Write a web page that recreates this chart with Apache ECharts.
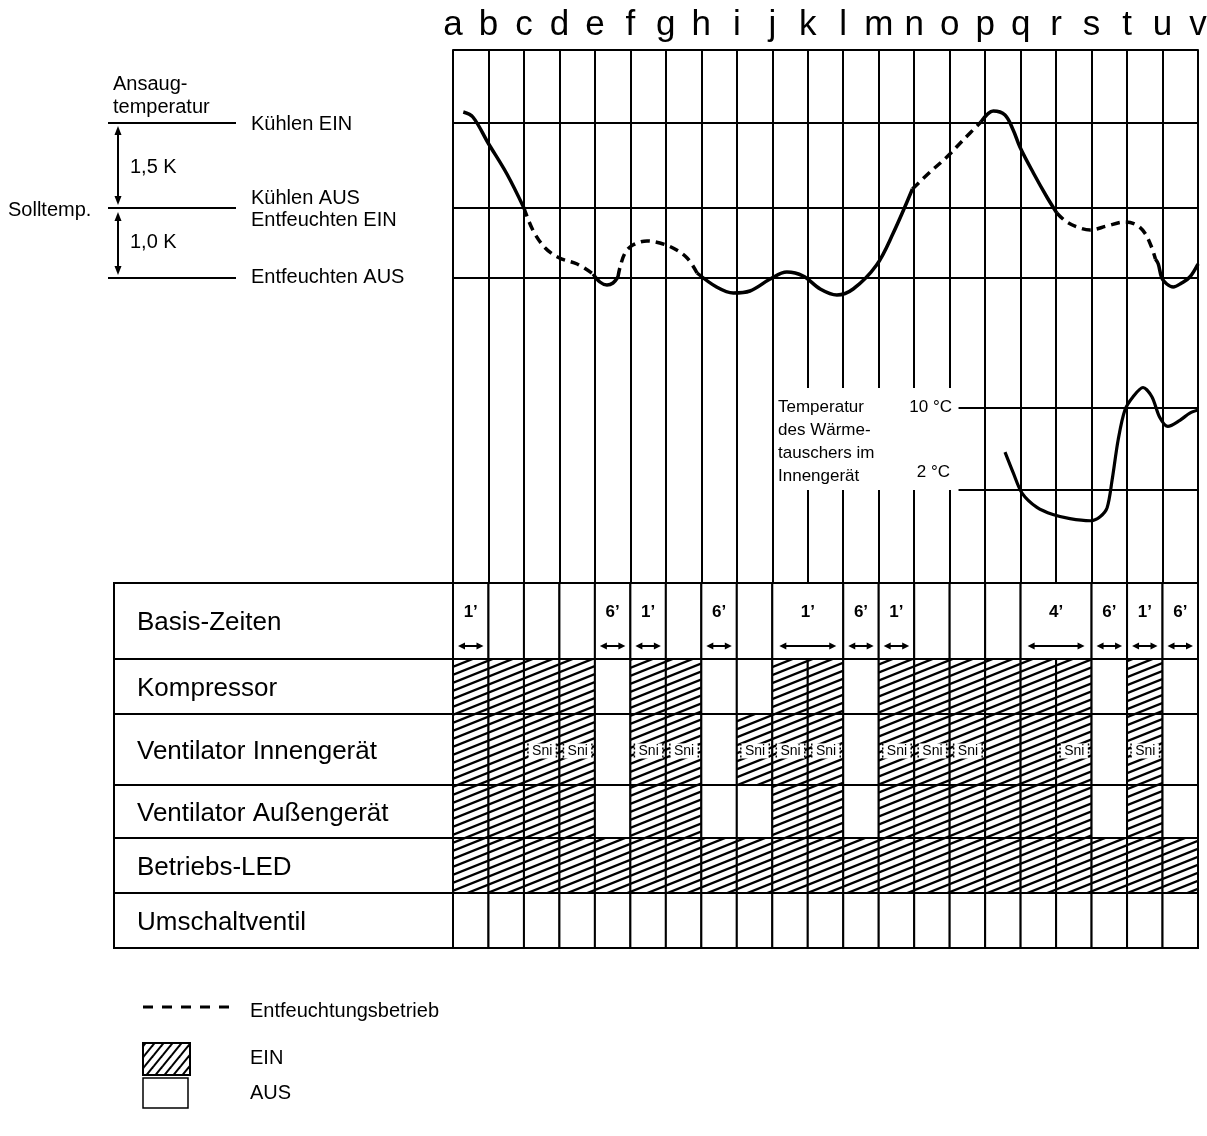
<!DOCTYPE html>
<html><head><meta charset="utf-8">
<script src="https://cdn.jsdelivr.net/npm/echarts@6/dist/echarts.min.js"></script>
<style>html,body{margin:0;padding:0;background:#fff}#c{width:1207px;height:1136px}</style>
</head><body><div id="c"></div>
<script>
// ---------- data ----------
const timeLetters = ['a','b','c','d','e','f','g','h','i','j','k','l','m','n','o','p','q','r','s','t','u','v'];

// Ansaugtemperatur: [time position (a=0 … v=21), level (0 = Solltemp., 8.5 = Kühlen EIN, -7 = Entfeuchten AUS)]
const thresholdLevels = [8.5, 0, -7];
const ansaugSolid1  = [[0.29,9.6],[0.56,9.1],[0.99,6.5],[1.52,3.4],[2.0,0.0]];
const ansaugDashed1 = [[2.0,0.0],[2.25,-2.2],[2.6,-4.0],[3.0,-5.0],[3.5,-5.6],[3.95,-6.6]];
const ansaugSolid2  = [[3.95,-6.6],[4.14,-7.4],[4.34,-7.7],[4.51,-7.5],[4.65,-6.9]];
const ansaugDashed2 = [[4.65,-6.9],[4.71,-5.9],[4.85,-4.5],[5.07,-3.7],[5.47,-3.3],[5.83,-3.5],[6.2,-4.0],[6.6,-5.0],[6.88,-6.5]];
const ansaugSolid3  = [[6.88,-6.5],[7.43,-7.9],[7.9,-8.5],[8.37,-8.3],[8.94,-7.1],[9.41,-6.4],[9.87,-6.8],[10.35,-8.1],[10.82,-8.7],[11.28,-8.1],[11.94,-5.7],[12.41,-2.5],[12.95,1.9]];
const ansaugDashed3 = [[12.95,1.9],[13.45,3.6],[13.92,5.1],[14.38,6.8],[14.88,8.6]];
const ansaugSolid4  = [[14.88,8.6],[15.23,9.7],[15.56,9.3],[15.79,7.8],[15.98,6.1],[16.36,3.5],[16.74,1.1],[17.02,-0.5]];
const ansaugDashed4 = [[17.02,-0.5],[17.3,-1.4],[17.67,-2.0],[17.96,-2.2],[18.43,-1.8],[18.94,-1.4],[19.27,-1.7],[19.5,-2.5],[19.69,-3.9],[19.8,-5.1]];
const ansaugSolid5  = [[19.8,-5.1],[19.88,-5.6],[19.98,-7.0],[20.12,-7.6],[20.3,-7.9],[20.54,-7.5],[20.77,-6.9],[21.0,-5.6]];

// Temperatur des Wärmetauschers im Innengerät, °C
const heatThresholds = [10, 2];
const heatLineStart = 14.25;
const heatExchanger = [[15.56,5.7],[15.79,3.7],[16.04,1.7],[16.46,0.3],[16.91,-0.4],[17.39,-0.8],[17.96,-1.0],[18.24,-0.6],[18.44,0.3],[18.58,3.0],[18.75,6.9],[18.94,9.8],[19.17,11.1],[19.45,12.0],[19.70,11.1],[19.92,9.1],[20.15,8.2],[20.49,8.8],[20.77,9.5],[21.0,9.8]];

// table
const rowNames = ['Basis-Zeiten','Kompressor','Ventilator Innengerät','Ventilator Außengerät','Betriebs-LED','Umschaltventil'];
const basisTimes = [
  {label:'1’', from:0, to:1},{label:'6’', from:4, to:5},{label:'1’', from:5, to:6},
  {label:'6’', from:7, to:8},{label:'1’', from:9, to:11},{label:'6’', from:11, to:12},
  {label:'1’', from:12, to:13},{label:'4’', from:16, to:18},{label:'6’', from:18, to:19},
  {label:'1’', from:19, to:20},{label:'6’', from:20, to:21}
];
const kompressor     = [1,1,1,1,0,1,1,0,0,1,1,0,1,1,1,1,1,1,0,1,0];
const ventInnen      = [1,1,1,1,0,1,1,0,1,1,1,0,1,1,1,1,1,1,0,1,0];
const ventInnenSni   = [0,0,1,1,0,1,1,0,1,1,1,0,1,1,1,0,0,1,0,1,0];
const ventAussen     = [1,1,1,1,0,1,1,0,0,1,1,0,1,1,1,1,1,1,0,1,0];
const betriebsLed    = [1,1,1,1,1,1,1,1,1,1,1,1,1,1,1,1,1,1,1,1,1];
const umschaltventil = [0,0,0,0,0,0,0,0,0,0,0,0,0,0,0,0,0,0,0,0,0];

// ---------- layout / style ----------
const FONT = "'Liberation Sans', Arial, Helvetica, sans-serif";
const rowEdges = [0, 76, 131, 202, 255, 310, 365];   // table row boundaries (px from table top)

function makeHatch(w, h, lw){
  const cv = document.createElement('canvas'); cv.width = w; cv.height = h;
  const ctx = cv.getContext('2d');
  ctx.fillStyle = '#fff'; ctx.fillRect(0,0,w,h);
  ctx.strokeStyle = '#000'; ctx.lineWidth = lw;
  for (let k=-2;k<=3;k++){ ctx.beginPath(); ctx.moveTo(-w, 2*h + k*h); ctx.lineTo(2*w, -h + k*h); ctx.stroke(); }
  return {image: cv, repeat: 'repeat'};
}
const hatchTable = makeHatch(20, 8, 2.3);
const hatchLegend = makeHatch(9, 11, 2);

const stateRows = [null, kompressor, ventInnen, ventAussen, betriebsLed, umschaltventil];
const cells = [];
for (let i=0;i<21;){
  const b = basisTimes.find(t=>t.from===i);
  const span = b ? b.to-b.from : 1;
  cells.push({row:0, col:i, span, on:0, sni:0, label: b ? b.label : null});
  i += span;
}
for (let r=1;r<6;r++) for (let i=0;i<21;i++)
  cells.push({row:r, col:i, span:1, on:stateRows[r][i], sni: r===2 ? ventInnenSni[i] : 0, label:null});

function txt(text, x, y, size, align, weight, extra){
  return Object.assign({type:'text', style:{text, x, y, fill:'#000', font:(weight||'normal')+' '+size+'px '+FONT,
    align: align||'left', textAlign: align||'left', verticalAlign:'middle', textVerticalAlign:'middle'}}, extra||{});
}

function renderTable(params, api){
  const c = cells[params.dataIndex];
  const a = api.coord([c.col, rowEdges[c.row]]);
  const b = api.coord([c.col + c.span, rowEdges[c.row+1]]);
  const x0=a[0], y0=a[1], x1=b[0], y1=b[1];
  const children = [{type:'rect', shape:{x:x0,y:y0,width:x1-x0,height:y1-y0},
    style:{fill: c.on ? hatchTable : '#fff', stroke:'#000', lineWidth:2}}];
  if (c.sni){
    const cy = y0 + 37;
    children.push({type:'rect', shape:{x:x0+4, y:cy-7.5, width:(x1-x0)-7, height:15}, style:{fill:'#fff', stroke:null}});
    children.push({type:'line', shape:{x1:x0+4,y1:cy-7.5,x2:x0+4,y2:cy+7.5}, style:{stroke:'#000', lineWidth:1.5, lineDash:[2,2]}});
    children.push({type:'line', shape:{x1:x1-3,y1:cy-7.5,x2:x1-3,y2:cy+7.5}, style:{stroke:'#000', lineWidth:1.5, lineDash:[2,2]}});
    children.push(txt('Sni', (x0+x1)/2+0.5, cy, 14, 'center'));
  }
  if (c.label){
    const cx = (x0+x1)/2;
    children.push(txt(c.label, cx, y0+29, 17, 'center', 'bold'));
    const inset = c.span > 1 ? 7 : 5;
    const xl = x0+inset, xr = x1-inset, ya = y0+63;
    children.push({type:'line', shape:{x1:xl+3,y1:ya,x2:xr-3,y2:ya}, style:{stroke:'#000', lineWidth:2}});
    children.push({type:'polygon', shape:{points:[[xl,ya],[xl+7,ya-3.5],[xl+7,ya+3.5]]}, style:{fill:'#000'}});
    children.push({type:'polygon', shape:{points:[[xr,ya],[xr-7,ya-3.5],[xr-7,ya+3.5]]}, style:{fill:'#000'}});
  }
  return {type:'group', children};
}

const lineSeries = (data, dashed) => ({
  type:'line', xAxisIndex:0, yAxisIndex:0, data, smooth:0.35, showSymbol:false, symbol:'none', silent:true, z:5,
  lineStyle:{color:'#000', width:3.5, type: dashed ? [9,6] : 'solid', cap:'butt'}
});

const chart = echarts.init(document.getElementById('c'), null, {renderer:'canvas'});
const first = lineSeries(ansaugSolid1, false);
first.markLine = {silent:true, symbol:['none','none'], label:{show:false}, animation:false,
  lineStyle:{color:'#000', width:2, type:'solid'}, emphasis:{disabled:true},
  data: thresholdLevels.map(v=>({yAxis:v}))};

const option = {
  animation:false,
  backgroundColor:'#fff',
  grid:[
    {left:453, top:50, width:745, height:533, outerBoundsMode:'none', containLabel:false},
    {left:453, top:367, width:745, height:184.5, outerBoundsMode:'none', containLabel:false},
    {left:453, top:583, width:745, height:365, outerBoundsMode:'none', containLabel:false}
  ],
  xAxis:[
    {gridIndex:0, type:'value', min:0, max:21, interval:1, position:'top',
     axisLine:{show:true, onZero:false, lineStyle:{color:'#000', width:2}}, axisTick:{show:false},
     axisLabel:{show:true, formatter:v=>timeLetters[Math.round(v)], fontSize:35, color:'#000', fontFamily:FONT, margin:7, showMinLabel:true, showMaxLabel:true},
     splitLine:{show:true, lineStyle:{color:'#000', width:2}}},
    {gridIndex:1, type:'value', min:0, max:21, show:false},
    {gridIndex:2, type:'value', min:0, max:21, show:false}
  ],
  yAxis:[
    {gridIndex:0, type:'value', min:-37.5, max:15.8, show:false},
    {gridIndex:1, type:'value', min:-4, max:14, show:false},
    {gridIndex:2, type:'value', min:0, max:365, inverse:true, show:false}
  ],
  series:[
    first,
    lineSeries(ansaugDashed1, true),
    lineSeries(ansaugSolid2, false),
    lineSeries(ansaugDashed2, true),
    lineSeries(ansaugSolid3, false),
    lineSeries(ansaugDashed3, true),
    lineSeries(ansaugSolid4, false),
    lineSeries(ansaugDashed4, true),
    lineSeries(ansaugSolid5, false),
    {type:'line', xAxisIndex:1, yAxisIndex:1, data:heatExchanger, smooth:0.3, showSymbol:false, symbol:'none', silent:true, z:5,
     lineStyle:{color:'#000', width:3.2},
     markLine:{silent:true, symbol:['none','none'], label:{show:false}, animation:false,
       lineStyle:{color:'#000', width:2, type:'solid'}, emphasis:{disabled:true},
       data: heatThresholds.map(t=>[{coord:[heatLineStart,t]},{coord:[21,t]}])}},
    {type:'custom', xAxisIndex:2, yAxisIndex:2, silent:true, z:3,
     data: cells.map(c=>[c.col, rowEdges[c.row]]), renderItem: renderTable}
  ]
};
chart.setOption(option);

// ---------- annotations positioned through the axes ----------
const yL = v => chart.convertToPixel({yAxisIndex:0}, v);
const yH = v => chart.convertToPixel({yAxisIndex:1}, v);
const yT = v => chart.convertToPixel({yAxisIndex:2}, v);
const xL = chart.convertToPixel({xAxisIndex:0}, 0);
const g = [];
thresholdLevels.forEach(v=>{
  const y = yL(v);
  g.push({type:'line', shape:{x1:108,y1:y,x2:236,y2:y}, style:{stroke:'#000', lineWidth:2}});
});
const yE = yL(thresholdLevels[0]), yS = yL(thresholdLevels[1]), yA = yL(thresholdLevels[2]);
function vArrow(x, ya, yb){
  g.push({type:'line', shape:{x1:x,y1:ya+6,x2:x,y2:yb-6}, style:{stroke:'#000', lineWidth:2}});
  g.push({type:'polygon', shape:{points:[[x,ya+1],[x-3.5,ya+10],[x+3.5,ya+10]]}, style:{fill:'#000'}});
  g.push({type:'polygon', shape:{points:[[x,yb-1],[x-3.5,yb-10],[x+3.5,yb-10]]}, style:{fill:'#000'}});
}
vArrow(118, yE+2, yS-2);
vArrow(118, yS+3, yA-2);
g.push(txt('Ansaug-', 113, yE-39, 20));
g.push(txt('temperatur', 113, yE-16, 20));
g.push(txt('Kühlen EIN', 251, yE+1, 20));
g.push(txt('Kühlen AUS', 251, yS-10, 20));
g.push(txt('Entfeuchten EIN', 251, yS+12, 20));
g.push(txt('Entfeuchten AUS', 251, yA-1, 20));
g.push(txt('Solltemp.', 8, yS+2, 20));
g.push(txt('1,5 K', 130, (yE+yS)/2+2, 20));
g.push(txt('1,0 K', 130, (yS+yA)/2-1, 20));
g.push({type:'rect', z:40, shape:{x:785, y:yH(10)-20, width:171, height:yH(2)-yH(10)+20}, style:{fill:'#fff'}});
g.push(txt('Temperatur\ndes Wärme-\ntauschers im\nInnengerät', 778, yH(10)+34, 17, 'left', 'normal', {z:50}));
g[g.length-1].style.lineHeight = 23;
g.push(txt('10 °C', 952, yH(10)-1, 17, 'right', 'normal', {z:50}));
g.push(txt('2 °C', 950, yH(2)-18, 17, 'right', 'normal', {z:50}));
rowNames.forEach((name, r)=>{
  const y0 = yT(rowEdges[r]), y1 = yT(rowEdges[r+1]);
  g.push({type:'rect', shape:{x:114, y:y0, width:xL-114, height:y1-y0}, style:{fill:'transparent', stroke:'#000', lineWidth:2}});
  g.push(txt(name, 137, (y0+y1)/2+2, 26));
});
g.push({type:'line', shape:{x1:143,y1:1007,x2:230,y2:1007}, style:{stroke:'#000', lineWidth:3, lineDash:[10,9]}});
g.push(txt('Entfeuchtungsbetrieb', 250, 1011, 20));
g.push({type:'rect', shape:{x:143, y:1043, width:47, height:32}, style:{fill:hatchLegend, stroke:'#000', lineWidth:2}});
g.push(txt('EIN', 250, 1058, 20));
g.push({type:'rect', shape:{x:143, y:1078, width:45, height:30}, style:{fill:'#fff', stroke:'#000', lineWidth:1.5}});
g.push(txt('AUS', 250, 1093, 20));
g.forEach(e=>{ if (e.z === undefined) e.z = 30; });
chart.setOption({graphic:{elements:g}});
</script>
</body></html>
